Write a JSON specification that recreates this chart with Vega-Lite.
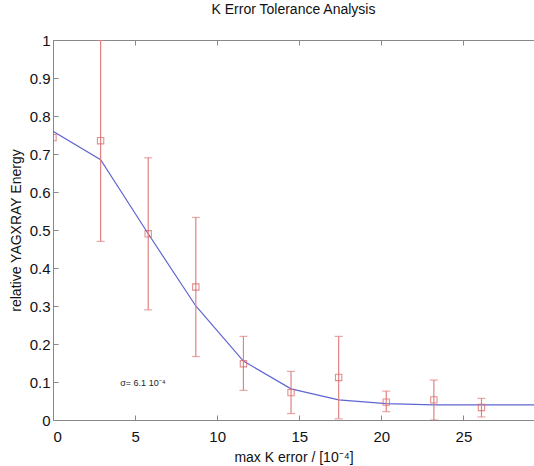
{
  "$schema": "https://vega.github.io/schema/vega-lite/v6.json",
  "width": 481,
  "height": 380,
  "autosize": {"type": "none"},
  "padding": {"left": 53, "top": 40, "right": 0, "bottom": 46},
  "title": {"text": "K Error Tolerance Analysis", "fontSize": 14, "fontWeight": "normal", "font": "Liberation Sans", "offset": 16, "color": "#111"},
  "config": {
    "view": {"stroke": null},
    "font": "Liberation Sans",
    "axis": {"grid": false, "domainColor": "#888", "tickColor": "#888", "labelColor": "#111", "titleColor": "#111", "labelFontSize": 15, "titleFontSize": 14, "titleFontWeight": "normal", "tickSize": -5, "labelPadding": 8}
  },
  "datasets": {
    "line": [
      {"x": 0, "y": 0.76}, {"x": 2.9, "y": 0.685}, {"x": 5.8, "y": 0.49}, {"x": 8.7, "y": 0.30},
      {"x": 11.6, "y": 0.155}, {"x": 14.5, "y": 0.082}, {"x": 17.4, "y": 0.053}, {"x": 20.3, "y": 0.043},
      {"x": 23.2, "y": 0.040}, {"x": 26.1, "y": 0.040}, {"x": 29.3, "y": 0.040}
    ],
    "pts": [
      {"x": 0, "y": 0.743}, {"x": 2.9, "y": 0.735}, {"x": 5.8, "y": 0.49}, {"x": 8.7, "y": 0.35},
      {"x": 11.6, "y": 0.148}, {"x": 14.5, "y": 0.072}, {"x": 17.4, "y": 0.112}, {"x": 20.3, "y": 0.047},
      {"x": 23.2, "y": 0.053}, {"x": 26.1, "y": 0.033}
    ],
    "bars": [
      {"x": 2.9, "lo": 0.47, "hi": 1.0}, {"x": 5.8, "lo": 0.29, "hi": 0.69}, {"x": 8.7, "lo": 0.167, "hi": 0.533},
      {"x": 11.6, "lo": 0.078, "hi": 0.22}, {"x": 14.5, "lo": 0.017, "hi": 0.128}, {"x": 17.4, "lo": 0.003, "hi": 0.22},
      {"x": 20.3, "lo": 0.022, "hi": 0.076}, {"x": 23.2, "lo": 0.0, "hi": 0.105}, {"x": 26.1, "lo": 0.008, "hi": 0.057}
    ],
    "note": [{"x": 4.1, "y": 0.097, "t": "σ= 6.1 10⁻⁴"}]
  },
  "layer": [
    {
      "data": {"name": "line"},
      "mark": {"type": "line", "color": "#5f66d2", "strokeWidth": 1.2, "clip": true},
      "encoding": {
        "x": {"field": "x", "type": "quantitative", "scale": {"domain": [0, 29.3], "nice": false}, "axis": {"orient": "bottom", "title": "max K error / [10⁻⁴]", "values": [0, 5, 10, 15, 20, 25], "labelPadding": 14, "titlePadding": 6}},
        "y": {"field": "y", "type": "quantitative", "scale": {"domain": [0, 1], "nice": false}, "axis": {"title": "relative YAGXRAY Energy", "values": [0, 0.1, 0.2, 0.3, 0.4, 0.5, 0.6, 0.7, 0.8, 0.9, 1], "format": "~g", "titlePadding": 6}}
      }
    },
    {
      "data": {"name": "bars"},
      "mark": {"type": "rule", "color": "#e38282", "strokeWidth": 1.2, "clip": true},
      "encoding": {
        "x": {"field": "x", "type": "quantitative", "axis": null},
        "y": {"field": "lo", "type": "quantitative", "axis": {"title": "relative YAGXRAY Energy", "values": [0, 0.1, 0.2, 0.3, 0.4, 0.5, 0.6, 0.7, 0.8, 0.9, 1], "format": "~g", "titlePadding": 6}},
        "y2": {"field": "hi"}
      }
    },
    {
      "data": {"name": "bars"},
      "mark": {"type": "tick", "orient": "horizontal", "color": "#e38282", "thickness": 1.2, "size": 8, "clip": true},
      "encoding": {
        "x": {"field": "x", "type": "quantitative", "axis": null},
        "y": {"field": "lo", "type": "quantitative", "axis": {"title": "relative YAGXRAY Energy", "values": [0, 0.1, 0.2, 0.3, 0.4, 0.5, 0.6, 0.7, 0.8, 0.9, 1], "format": "~g", "titlePadding": 6}}
      }
    },
    {
      "data": {"name": "bars"},
      "mark": {"type": "tick", "orient": "horizontal", "color": "#e38282", "thickness": 1.2, "size": 8, "clip": true},
      "encoding": {
        "x": {"field": "x", "type": "quantitative", "axis": null},
        "y": {"field": "hi", "type": "quantitative", "axis": {"title": "relative YAGXRAY Energy", "values": [0, 0.1, 0.2, 0.3, 0.4, 0.5, 0.6, 0.7, 0.8, 0.9, 1], "format": "~g", "titlePadding": 6}}
      }
    },
    {
      "data": {"name": "pts"},
      "mark": {"type": "point", "shape": "square", "filled": false, "color": "#d96060", "size": 40, "strokeWidth": 1.1, "clip": true},
      "encoding": {
        "x": {"field": "x", "type": "quantitative", "axis": null},
        "y": {"field": "y", "type": "quantitative", "axis": {"title": "relative YAGXRAY Energy", "values": [0, 0.1, 0.2, 0.3, 0.4, 0.5, 0.6, 0.7, 0.8, 0.9, 1], "format": "~g", "titlePadding": 6}}
      }
    },
    {
      "data": {"name": "note"},
      "mark": {"type": "text", "align": "left", "baseline": "middle", "fontSize": 9, "color": "#222"},
      "encoding": {
        "x": {"field": "x", "type": "quantitative", "axis": {"orient": "top", "labels": false, "title": null, "values": [0, 5, 10, 15, 20, 25]}},
        "y": {"field": "y", "type": "quantitative", "axis": {"title": "relative YAGXRAY Energy", "values": [0, 0.1, 0.2, 0.3, 0.4, 0.5, 0.6, 0.7, 0.8, 0.9, 1], "format": "~g", "titlePadding": 6}},
        "text": {"field": "t"}
      }
    }
  ],
  "resolve": {"axis": {"x": "independent"}}
}
